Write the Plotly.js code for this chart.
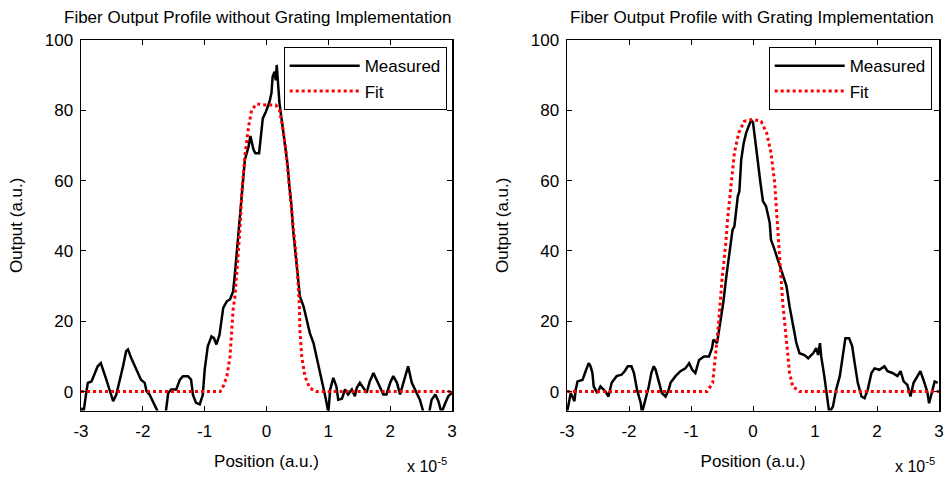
<!DOCTYPE html>
<html>
<head>
<meta charset="utf-8">
<script src="https://cdn.plot.ly/plotly-3.0.1.min.js"></script>
<style>html,body{margin:0;padding:0;background:#fff;}#chart{width:944px;height:479px;}</style>
</head>
<body>
<div id="chart"></div>
<script>
// Position in units of 1e-5 (a.u.), Output in a.u.
const leftMeasuredX = [-3.0,-2.96,-2.92,-2.89,-2.83,-2.78,-2.73,-2.68,-2.64,-2.59,-2.54,-2.48,-2.43,-2.37,-2.32,-2.27,-2.24,-2.19,-2.13,-2.08,-2.03,-1.97,-1.94,-1.89,-1.84,-1.78,-1.75,-1.63,-1.59,-1.54,-1.46,-1.40,-1.35,-1.27,-1.22,-1.19,-1.14,-1.08,-1.03,-1.00,-0.95,-0.89,-0.85,-0.81,-0.76,-0.70,-0.64,-0.59,-0.54,-0.51,-0.46,-0.40,-0.35,-0.29,-0.26,-0.21,-0.18,-0.12,-0.10,-0.06,-0.01,0.05,0.08,0.10,0.13,0.15,0.165,0.18,0.21,0.26,0.32,0.34,0.37,0.40,0.43,0.49,0.54,0.60,0.65,0.70,0.76,0.81,0.865,0.92,0.95,0.98,1.0,1.03,1.08,1.13,1.16,1.22,1.27,1.32,1.38,1.43,1.46,1.51,1.57,1.62,1.67,1.73,1.78,1.84,1.89,1.94,2.00,2.05,2.11,2.16,2.21,2.26,2.29,2.35,2.43,2.48,2.54,2.63,2.67,2.73,2.78,2.83,2.89,2.94,3.0];
const leftMeasuredY = [-4.6,-6,-0.9,2.5,2.9,5.3,7.2,8.1,6.2,3.4,0.6,-2.7,-0.9,3.4,7.2,11.5,12,9.6,7.2,5.3,3.4,2.5,0.1,-0.9,-2.7,-4.6,-6,-6,-0.4,0.6,0.6,3.4,4.4,4.4,3.4,-0.9,-3.2,-3.6,-0.9,6.2,12.9,15.7,15.2,13.4,16.2,23.8,25.7,26.2,28.5,33.7,43.2,56.4,65.9,69.7,72.7,68.8,67.8,67.8,71.6,77.7,79.6,82.5,84.9,89.6,91,88.5,92.9,88.6,82,75.4,67.8,64.6,58.3,53.6,46,36.6,27.1,24.2,20.5,16.7,13.8,10,5.3,1.5,-1.3,-4,-6,0.6,3.9,1.5,-2.3,-2,0.6,-0.8,0.6,-1.3,1.1,2.5,1.1,-0.3,2.9,5.3,3.4,1.1,-0.8,-0.8,2.5,4.4,2.5,-0.8,2.5,5.3,7.2,2.5,-0.3,-2.3,-6,-6,-2.3,-0.8,-2.7,-6,-3.3,-1.3,-0.3];
const leftFitX = [-3,-0.75,-0.70,-0.64,-0.59,-0.56,-0.54,-0.51,-0.47,-0.43,-0.40,-0.35,-0.29,-0.24,-0.16,0.0,0.15,0.21,0.26,0.32,0.37,0.43,0.49,0.53,0.54,0.57,0.62,0.70,0.81,3];
const leftFitY = [0,0,1.5,4.4,10,17.6,23.3,27.1,36.6,46,56.4,66.9,75.4,80.1,81.8,81.5,81.5,80,75.4,67.8,58.3,46.5,36.6,25.2,17.6,10,4.4,1,0,0];

const rightMeasuredX = [-3.0,-2.97,-2.94,-2.88,-2.86,-2.83,-2.75,-2.70,-2.65,-2.62,-2.59,-2.57,-2.51,-2.46,-2.38,-2.33,-2.28,-2.20,-2.12,-2.07,-2.02,-1.96,-1.92,-1.87,-1.81,-1.79,-1.74,-1.68,-1.64,-1.60,-1.57,-1.52,-1.47,-1.41,-1.36,-1.33,-1.25,-1.17,-1.09,-1.03,-0.98,-0.93,-0.87,-0.79,-0.71,-0.66,-0.64,-0.58,-0.53,-0.48,-0.43,-0.38,-0.33,-0.30,-0.245,-0.22,-0.19,-0.15,-0.11,-0.07,-0.03,0.0,0.02,0.05,0.08,0.12,0.16,0.21,0.27,0.29,0.33,0.40,0.43,0.48,0.54,0.59,0.64,0.70,0.75,0.83,0.89,0.97,1.02,1.05,1.08,1.10,1.15,1.21,1.23,1.29,1.34,1.40,1.45,1.49,1.55,1.60,1.64,1.69,1.75,1.80,1.85,1.91,1.96,2.04,2.12,2.17,2.25,2.33,2.38,2.43,2.49,2.54,2.59,2.65,2.70,2.75,2.81,2.84,2.89,2.93,2.98];
const rightMeasuredY = [-6,-3,-0.4,-2.7,0.5,2.9,3.3,5.8,8.1,7.2,5.3,1.5,-0.4,1.5,0,-1.4,2.5,4.4,4.8,5.8,7.2,7.2,5.3,0.5,-3.3,-6,-2.4,1.5,5.3,7.2,6.2,2.5,-0.4,-1.4,0.5,2.5,4.4,5.8,6.6,8.1,6.2,5.3,9,10,10,12.4,14.8,13.8,19.5,25.2,32.8,39.4,46,47,55.6,56.9,65.9,70.7,73.6,75.5,77.2,76.6,73.6,69.8,64.1,59.4,54.2,52.7,48,43.2,41.3,37.5,35.6,32.8,30,24.2,19.5,13.8,10.9,10.4,9.5,10.9,12.4,10.4,13.8,10,4.4,-2.4,-6,-4.2,0.5,4.4,10.9,15.2,15.2,12.9,8.1,2.5,-1.4,-1.9,0.5,5.3,6.6,6.2,7.2,5.8,5.3,4.4,5.8,2.9,1.9,-1.4,2.5,4.4,5.8,3.3,0,-3.3,0.5,2.9,2.5];
const rightFitX = [-3,-0.74,-0.65,-0.62,-0.59,-0.55,-0.50,-0.44,-0.41,-0.35,-0.30,-0.23,-0.14,0.0,0.13,0.22,0.29,0.35,0.39,0.43,0.48,0.54,0.59,0.64,0.75,3];
const rightFitY = [0,0,2.5,9,12.9,20.5,31.9,42,48.9,59.4,67.9,73.6,76.9,77.4,76.9,73.6,67.9,59.4,50,38,25.2,13.8,5.3,1.5,0,0];

const titles = ['Fiber Output Profile without Grating Implementation','Fiber Output Profile with Grating Implementation'];
const xTickVals = [-3,-2,-1,0,1,2,3];
const yTickVals = [0,20,40,60,80,100];
const seriesNames = ['Measured','Fit'];

const FONT = 'Liberation Sans, Arial, sans-serif';
const measuredLine = {color:'#000000', width:2.5};
const fitLine = {color:'#ff0000', width:3, dash:'dot'};

const traces = [
  {x:leftMeasuredX, y:leftMeasuredY, name:seriesNames[0], mode:'lines', line:measuredLine, xaxis:'x', yaxis:'y', legend:'legend'},
  {x:leftFitX, y:leftFitY, name:seriesNames[1], mode:'lines', line:fitLine, xaxis:'x', yaxis:'y', legend:'legend'},
  {x:rightMeasuredX, y:rightMeasuredY, name:seriesNames[0], mode:'lines', line:measuredLine, xaxis:'x2', yaxis:'y2', legend:'legend2'},
  {x:rightFitX, y:rightFitY, name:seriesNames[1], mode:'lines', line:fitLine, xaxis:'x2', yaxis:'y2', legend:'legend2'}
];

function xAxis(domain, anchor){
  return {domain:domain, anchor:anchor, range:[-3,3], tickvals:xTickVals, ticktext:xTickVals.map(String),
    ticks:'inside', ticklen:5, tickwidth:1, tickcolor:'#000', mirror:'allticks', showline:true, linecolor:'#000', linewidth:1.5,
    showgrid:false, zeroline:false, ticklabelstandoff:4, tickfont:{family:FONT, size:17, color:'#000'},
    title:{text:'Position (a.u.)', font:{family:FONT, size:17, color:'#000'}, standoff:15}};
}
function yAxis(domain, anchor){
  return {domain:domain, anchor:anchor, range:[-5.4,100], tickvals:yTickVals, ticktext:yTickVals.map(String),
    ticks:'inside', ticklen:5, tickwidth:1, tickcolor:'#000', mirror:'allticks', showline:true, linecolor:'#000', linewidth:1.5,
    showgrid:false, zeroline:false, ticklabelstandoff:3, tickfont:{family:FONT, size:17, color:'#000'},
    title:{text:'Output (a.u.)', font:{family:FONT, size:17, color:'#000'}, standoff:18}};
}
const yDom = [1-410.6/479, 1-40/479];
function legendAt(xr){
  return {x:xr, xanchor:'right', y:1-47.3/479, yanchor:'top', bgcolor:'#fff', bordercolor:'#000', borderwidth:1,
    font:{family:FONT, size:17, color:'#000'}, itemwidth:70, tracegroupgap:0};
}

const layout = {
  width:944, height:479, paper_bgcolor:'#fff', plot_bgcolor:'#fff',
  margin:{l:0, r:0, t:0, b:0},
  showlegend:true,
  xaxis:xAxis([81/944, 452/944], 'y'),
  yaxis:yAxis(yDom, 'x'),
  xaxis2:xAxis([567/944, 939/944], 'y2'),
  yaxis2:yAxis(yDom, 'x2'),
  legend:legendAt(446.7/944),
  legend2:legendAt(931.7/944),
  annotations:[
    {text:titles[0], xref:'paper', yref:'paper', x:(62+452)/2/944, y:1-17/479, xanchor:'center', yanchor:'middle', showarrow:false, font:{family:FONT, size:17, color:'#000'}},
    {text:titles[1], xref:'paper', yref:'paper', x:(562+942)/2/944, y:1-17/479, xanchor:'center', yanchor:'middle', showarrow:false, font:{family:FONT, size:17, color:'#000'}},
    {text:'x 10<sup>-5</sup>', xref:'paper', yref:'paper', x:405/944, y:1-465/479, xanchor:'left', yanchor:'middle', showarrow:false, font:{family:FONT, size:16, color:'#000'}},
    {text:'x 10<sup>-5</sup>', xref:'paper', yref:'paper', x:893/944, y:1-465/479, xanchor:'left', yanchor:'middle', showarrow:false, font:{family:FONT, size:16, color:'#000'}}
  ]
};

Plotly.newPlot('chart', traces, layout, {staticPlot:true, displayModeBar:false});
</script>
</body>
</html>
